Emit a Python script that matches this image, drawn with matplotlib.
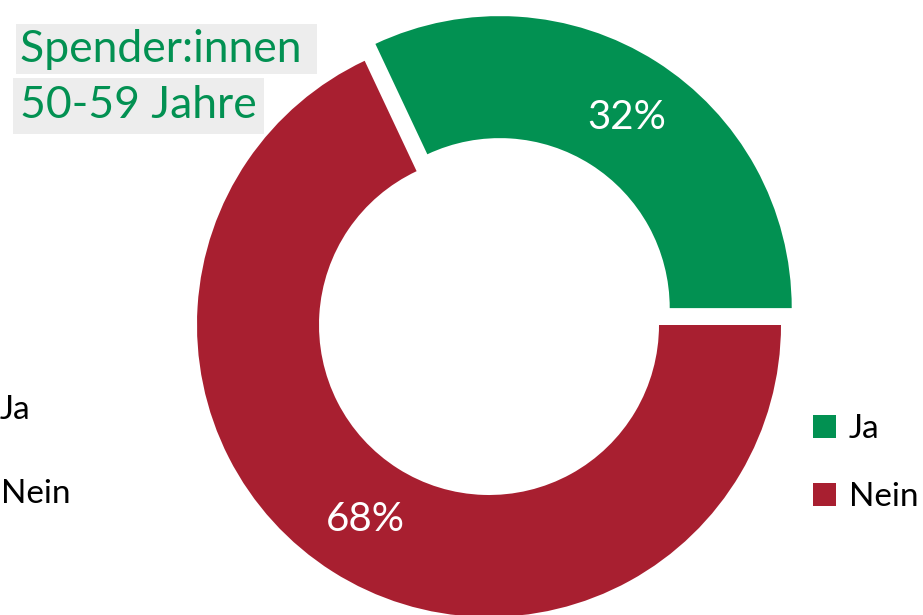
import matplotlib
matplotlib.use("Agg")
import matplotlib.pyplot as plt

plt.rcParams['font.family'] = ['Lato', 'DejaVu Sans']

# Data
labels = ["Ja", "Nein"]
values = [32, 68]
colors = ["#029152", "#A81F30"]
title_lines = ["Spender:innen ", "50-59 Jahre"]

W, H = 923, 615
fig = plt.figure(figsize=(W / 100, H / 100), dpi=100)
ax = fig.add_axes([0, 0, 1, 1])

# pie drawn in pixel-like data units so the layout follows the reference
wedges, texts, autotexts = ax.pie(
    values, colors=colors, startangle=0, counterclock=True,
    radius=292, center=(489, 290), explode=[20, 0],
    wedgeprops=dict(width=122, linewidth=0),
    autopct=lambda p: f"{p:.0f}%", pctdistance=0.79,
    textprops=dict(color="white", fontsize=29))
autotexts[0].set_position((autotexts[0].get_position()[0] + 3, autotexts[0].get_position()[1] - 4))
ax.set_xlim(0, W)
ax.set_ylim(0, H)
ax.set_aspect("equal")
ax.axis("off")

# title with grey highlight per line (second line drawn first so the first sits on top)
green = colors[0]
fig.text(20 / W, 1 - 106 / H, title_lines[1], color=green, fontsize=32, va="center", ha="left",
         bbox=dict(boxstyle="square,pad=0.16", facecolor="#EDEDED", edgecolor="none"))
fig.text(20 / W, 1 - 49 / H, title_lines[0], color=green, fontsize=32, va="center", ha="left",
         bbox=dict(boxstyle="square,pad=0.1", facecolor="#EDEDED", edgecolor="none"))

# legend on the right
ax.legend(wedges, labels, loc="upper left", bbox_to_anchor=(813 / W, 1 - 414 / H),
          bbox_transform=fig.transFigure, frameon=False, fontsize=24,
          handlelength=0.68, handleheight=0.68, handletextpad=0.4,
          labelspacing=1.15, borderpad=0, borderaxespad=0)

# cut-off labels at the left edge
fig.text(0 / W, 1 - 410 / H, labels[0], fontsize=24, va="center", ha="left", color="black")
fig.text(1 / W, 1 - 494 / H, labels[1], fontsize=24, va="center", ha="left", color="black")

fig.savefig("out.png", dpi=100)
